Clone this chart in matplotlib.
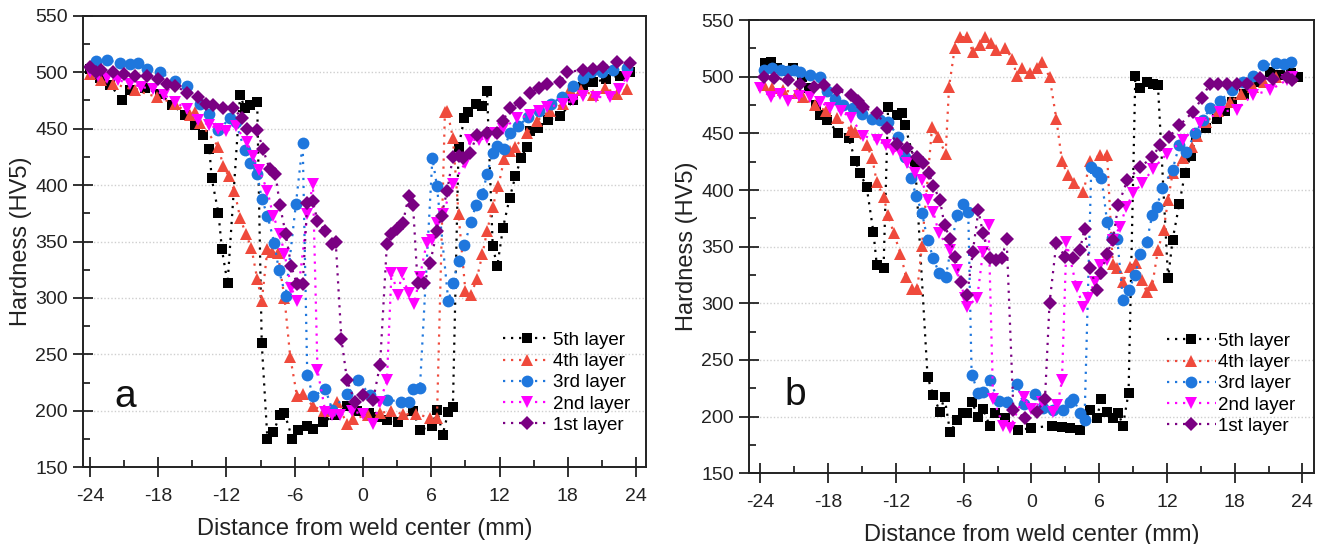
import matplotlib
matplotlib.use("Agg")
import matplotlib.pyplot as plt
from matplotlib.ticker import MultipleLocator

plt.rcParams['font.family'] = ['Liberation Sans', 'DejaVu Sans']
plt.rcParams['axes.unicode_minus'] = False

# ---- panel a : (distance mm, hardness HV5) ----
a5 = [(-24.0, 503), (-23.1, 495), (-22.2, 489), (-21.2, 475), (-20.5, 484), (-19.2, 486),
      (-17.8, 481), (-16.8, 471), (-15.6, 462), (-14.8, 453), (-14.1, 444), (-13.5, 432),
      (-13.3, 406), (-12.7, 375), (-12.4, 343), (-11.9, 313), (-10.8, 480), (-10.4, 468),
      (-9.9, 471), (-9.3, 474), (-8.9, 260), (-8.4, 175), (-7.9, 181), (-7.3, 196),
      (-6.9, 198), (-6.2, 175), (-5.7, 183), (-4.9, 187), (-4.4, 184), (-3.5, 190),
      (-2.5, 196), (-1.4, 204), (-0.5, 200), (0.5, 198), (1.2, 195), (2.1, 192), (3.1, 190),
      (4.4, 200), (5.0, 183), (6.1, 187), (6.5, 201), (7.0, 179), (7.5, 199), (7.9, 203),
      (8.4, 434), (8.9, 459), (9.2, 465), (9.9, 472), (10.5, 470), (10.9, 483), (11.4, 346),
      (11.8, 328), (12.3, 362), (12.9, 389), (13.4, 408), (13.9, 424), (14.4, 434),
      (14.7, 448), (15.4, 451), (16.3, 458), (17.3, 461), (18.5, 475), (19.3, 487),
      (20.2, 491), (21.4, 494), (22.6, 497), (23.5, 500)]

a4 = [(-24.0, 498), (-23.0, 493), (-22.0, 490), (-20.0, 484), (-18.1, 478), (-16.5, 472),
      (-15.2, 462), (-14.8, 465), (-14.3, 455), (-12.7, 434), (-12.3, 417), (-11.8, 408),
      (-11.3, 395), (-10.8, 371), (-10.3, 357), (-9.8, 344), (-9.3, 317), (-8.9, 297),
      (-8.4, 343), (-8.0, 341), (-7.5, 340), (-6.9, 300), (-6.4, 248), (-5.8, 213),
      (-5.3, 215), (-4.4, 204), (-3.4, 200), (-2.3, 208), (-1.4, 188), (-0.9, 193),
      (0.4, 196), (1.5, 198), (2.5, 200), (3.5, 197), (4.7, 197), (5.9, 194), (6.5, 194),
      (7.2, 465), (7.4, 466), (7.9, 442), (8.4, 374), (9.0, 306), (9.5, 303), (10.0, 317),
      (10.5, 339), (10.9, 359), (11.4, 381), (11.9, 399), (12.4, 423), (12.9, 430),
      (13.4, 434), (14.4, 446), (15.3, 457), (16.4, 466), (17.6, 472), (18.2, 485),
      (19.2, 484), (20.2, 480), (21.3, 486), (22.3, 481), (23.2, 485)]

a3 = [(-23.5, 510), (-22.5, 511), (-21.4, 508), (-20.5, 507), (-19.8, 508), (-19.0, 503),
      (-17.8, 500), (-16.5, 492), (-15.5, 488), (-14.3, 472), (-13.5, 463), (-12.7, 449),
      (-11.7, 459), (-11.2, 456), (-10.4, 431), (-9.9, 420), (-9.3, 410), (-8.9, 388),
      (-8.4, 373), (-7.8, 349), (-7.4, 325), (-6.8, 302), (-5.9, 383), (-5.3, 437),
      (-4.9, 232), (-4.4, 213), (-3.3, 219), (-2.7, 201), (-1.4, 215), (-0.4, 227),
      (0.6, 214), (2.1, 210), (3.3, 208), (4.0, 208), (4.4, 219), (5.0, 220), (6.1, 424),
      (6.5, 399), (7.5, 297), (7.9, 313), (8.4, 333), (8.9, 347), (9.5, 367), (9.9, 382),
      (10.5, 392), (10.9, 410), (11.4, 428), (11.8, 435), (12.4, 432), (12.9, 446),
      (13.6, 452), (14.5, 460), (15.5, 466), (16.5, 472), (17.5, 478), (18.5, 488),
      (19.3, 495), (20.0, 500), (21.0, 500), (22.0, 502), (23.2, 504)]

a2 = [(-24.0, 500), (-23.3, 497), (-22.5, 495), (-21.5, 493), (-20.5, 490), (-19.5, 487),
      (-18.5, 485), (-17.5, 480), (-16.5, 474), (-15.5, 467), (-14.5, 458), (-13.5, 453),
      (-12.7, 450), (-12.0, 448), (-11.2, 452), (-10.2, 438), (-9.7, 426), (-9.1, 413),
      (-8.4, 395), (-7.9, 373), (-7.3, 357), (-6.9, 339), (-6.3, 309), (-5.8, 297),
      (-4.9, 374), (-4.4, 401), (-4.0, 236), (-3.3, 199), (-2.7, 196), (-2.0, 196),
      (-1.0, 200), (0.0, 197), (0.9, 188), (1.5, 208), (2.1, 227), (2.5, 322), (3.1, 303),
      (3.4, 322), (4.0, 304), (4.5, 295), (5.0, 319), (5.6, 349), (6.1, 351), (6.5, 366),
      (7.0, 374), (7.9, 401), (9.0, 420), (9.4, 440), (10.2, 440), (10.9, 442), (11.6, 446),
      (12.3, 450), (13.5, 459), (14.7, 462), (15.5, 466), (16.2, 469), (17.6, 472),
      (18.5, 475), (19.3, 479), (20.5, 478), (21.7, 478), (22.5, 485), (23.2, 496)]

a1 = [(-24.0, 505), (-23.5, 500), (-23.0, 502), (-22.0, 500), (-21.0, 498), (-20.0, 497),
      (-19.0, 497), (-18.0, 494), (-17.2, 490), (-16.5, 488), (-15.5, 482), (-14.5, 478),
      (-13.8, 472), (-13.2, 471), (-12.3, 468), (-11.4, 468), (-10.6, 459), (-10.2, 450),
      (-9.3, 449), (-8.8, 432), (-8.2, 414), (-7.7, 410), (-7.3, 382), (-6.8, 357),
      (-6.3, 328), (-5.8, 312), (-5.3, 312), (-4.9, 384), (-4.4, 386), (-4.0, 368),
      (-3.3, 359), (-2.7, 348), (-2.4, 350), (-1.9, 264), (-1.4, 227), (-0.7, 208),
      (0.0, 214), (0.9, 210), (1.5, 241), (2.1, 348), (2.5, 357), (3.0, 361), (3.5, 366),
      (4.0, 390), (4.4, 382), (4.8, 313), (5.4, 313), (5.9, 331), (6.5, 359), (6.9, 373),
      (7.4, 395), (7.9, 425), (8.4, 426), (8.8, 424), (9.4, 428), (10.0, 444), (10.9, 446),
      (11.8, 446), (12.3, 457), (12.9, 468), (13.8, 473), (14.7, 482), (15.5, 486),
      (16.2, 490), (17.3, 491), (17.9, 500), (19.3, 502), (20.2, 503), (21.1, 505),
      (22.3, 509), (23.5, 508)]

# ---- panel b ----
b5 = [(-23.6, 512), (-23.1, 513), (-22.5, 508), (-21.7, 505), (-21.1, 508), (-20.3, 500),
      (-19.7, 490), (-19.1, 475), (-18.7, 466), (-18.1, 462), (-17.1, 450), (-16.2, 446),
      (-15.6, 426), (-15.2, 415), (-14.6, 403), (-14.0, 363), (-13.7, 334), (-13.1, 331),
      (-12.7, 473), (-11.9, 466), (-11.5, 468), (-11.2, 457), (-10.3, 423), (-9.2, 235),
      (-8.7, 219), (-8.1, 204), (-7.7, 217), (-7.2, 186), (-6.6, 197), (-6.1, 203),
      (-5.7, 203), (-5.3, 213), (-4.7, 200), (-4.3, 207), (-3.7, 192), (-3.2, 203),
      (-2.3, 199), (-1.2, 188), (0.0, 190), (1.8, 192), (2.7, 191), (3.4, 190), (4.3, 188),
      (5.2, 206), (5.8, 199), (6.2, 216), (6.7, 204), (7.2, 199), (7.7, 203), (8.1, 192),
      (8.6, 221), (9.2, 501), (9.6, 490), (10.2, 495), (10.8, 494), (11.2, 493), (12.1, 322),
      (12.5, 356), (13.1, 388), (13.6, 415), (14.1, 430), (14.6, 448), (15.5, 455),
      (16.4, 463), (17.1, 470), (17.8, 478), (18.8, 485), (19.9, 495), (21.1, 504),
      (22.0, 502), (23.0, 503), (23.6, 500)]

b4 = [(-23.7, 493), (-23.0, 490), (-22.0, 488), (-20.8, 486), (-20.2, 482), (-19.2, 475),
      (-18.2, 470), (-17.2, 464), (-16.0, 453), (-15.6, 451), (-14.6, 440), (-14.1, 428),
      (-13.7, 407), (-13.1, 394), (-12.7, 378), (-12.2, 362), (-11.6, 344), (-11.1, 323),
      (-10.6, 313), (-10.1, 313), (-9.7, 351), (-8.8, 456), (-8.3, 447), (-7.6, 432),
      (-7.3, 491), (-6.8, 525), (-6.3, 535), (-5.7, 535), (-5.2, 522), (-4.6, 528),
      (-4.1, 535), (-3.6, 530), (-3.1, 524), (-2.3, 525), (-1.7, 516), (-1.3, 501),
      (-0.8, 508), (-0.1, 503), (0.5, 508), (0.9, 513), (1.6, 500), (2.2, 463), (2.7, 426),
      (3.2, 413), (3.8, 406), (4.6, 398), (5.2, 426), (6.1, 431), (6.7, 431), (7.2, 335),
      (7.6, 331), (8.1, 319), (8.7, 332), (9.3, 336), (9.8, 321), (10.2, 310), (10.7, 316),
      (11.2, 347), (11.7, 365), (12.1, 391), (12.5, 415), (13.4, 428), (14.2, 438),
      (14.7, 448), (15.5, 460), (16.5, 470), (17.6, 478), (18.6, 485), (19.6, 491),
      (20.6, 495), (21.7, 500), (23.0, 500)]

b3 = [(-23.7, 506), (-23.0, 508), (-22.2, 506), (-21.6, 505), (-21.0, 506), (-20.5, 504),
      (-19.6, 502), (-18.7, 500), (-18.1, 487), (-17.4, 480), (-16.7, 475), (-15.8, 472),
      (-15.0, 467), (-14.1, 463), (-13.4, 462), (-12.7, 460), (-11.8, 447), (-11.2, 429),
      (-10.7, 411), (-10.2, 395), (-9.7, 380), (-9.2, 356), (-8.7, 340), (-8.2, 327),
      (-7.6, 323), (-6.6, 378), (-6.1, 388), (-5.6, 381), (-5.3, 237), (-4.7, 221),
      (-4.3, 222), (-3.7, 232), (-2.9, 214), (-2.2, 213), (-1.3, 229), (-0.7, 211),
      (0.3, 220), (1.0, 208), (1.9, 206), (2.8, 206), (3.4, 213), (3.7, 216), (4.3, 203),
      (4.7, 197), (5.3, 420), (5.8, 416), (6.2, 411), (6.7, 372), (7.1, 358), (7.6, 357),
      (8.1, 303), (8.6, 312), (9.2, 325), (9.6, 344), (10.2, 354), (10.7, 378), (11.1, 385),
      (11.6, 402), (12.5, 418), (13.1, 440), (13.7, 434), (14.5, 450), (15.2, 462),
      (15.8, 472), (16.7, 479), (17.8, 488), (18.7, 495), (19.6, 501), (20.5, 510),
      (21.7, 512), (22.4, 511), (23.0, 513)]

b2 = [(-24.0, 490), (-23.1, 482), (-22.3, 485), (-21.6, 479), (-20.6, 483), (-19.6, 482),
      (-18.7, 478), (-17.8, 472), (-16.9, 470), (-16.0, 464), (-14.9, 448), (-13.7, 444),
      (-12.9, 440), (-12.3, 435), (-11.6, 434), (-11.0, 424), (-10.3, 415), (-9.7, 409),
      (-9.2, 391), (-8.7, 381), (-8.2, 362), (-7.2, 347), (-6.6, 329), (-5.9, 305),
      (-5.7, 297), (-4.8, 305), (-4.3, 345), (-3.8, 369), (-3.4, 216), (-2.5, 192),
      (-1.9, 190), (-0.7, 217), (0.0, 207), (0.9, 213), (1.9, 204), (2.3, 210), (2.7, 232),
      (3.1, 354), (4.0, 314), (4.6, 297), (5.0, 305), (5.6, 319), (6.1, 334), (6.7, 338),
      (7.2, 356), (7.8, 367), (8.4, 385), (9.0, 397), (9.8, 406), (10.8, 419), (12.0, 432),
      (13.4, 444), (14.9, 459), (16.7, 469), (18.2, 471), (19.6, 484), (21.1, 488),
      (22.6, 497), (23.1, 500)]

b1 = [(-23.7, 500), (-22.8, 499), (-21.6, 497), (-20.5, 494), (-19.3, 491), (-18.4, 493),
      (-17.2, 488), (-16.0, 484), (-15.4, 479), (-14.9, 473), (-13.7, 468), (-12.8, 455),
      (-11.9, 441), (-11.0, 437), (-10.1, 429), (-9.6, 424), (-9.1, 415), (-8.7, 404),
      (-8.1, 391), (-7.7, 369), (-7.2, 357), (-6.8, 341), (-6.2, 319), (-5.7, 307),
      (-5.2, 345), (-4.7, 382), (-4.3, 362), (-3.7, 340), (-3.1, 338), (-2.6, 340),
      (-2.2, 357), (-1.6, 206), (-0.6, 199), (0.5, 204), (1.2, 216), (1.6, 300), (2.2, 353),
      (3.0, 341), (3.7, 340), (4.3, 347), (4.7, 366), (5.2, 331), (5.8, 312), (6.2, 327),
      (6.7, 344), (7.2, 356), (7.7, 387), (8.5, 409), (9.6, 420), (10.7, 429), (11.4, 440),
      (12.2, 447), (13.1, 457), (14.3, 469), (15.1, 481), (15.8, 494), (16.5, 494),
      (17.3, 494), (18.2, 494), (19.1, 494), (20.2, 499), (21.4, 498), (22.6, 500),
      (23.1, 497)]

labels = ['5th layer', '4th layer', '3rd layer', '2nd layer', '1st layer']
colors = ['#000000', '#ef4a3c', '#1f77dd', '#ff00ff', '#7a0082']
markers = ['s', '^', 'o', 'v', 'D']
msizes = [7.2, 8.5, 8.5, 8.5, 6.8]

fig = plt.figure(figsize=(13.19, 5.44), dpi=100)
ax_a = fig.add_axes([0.063, 0.141, 0.427, 0.830])
ax_b = fig.add_axes([0.568, 0.130, 0.428, 0.833])


def draw(ax, series, xlim, letter, leg_anchor, letter_pos):
    for s, lab, c, m, ms in zip(series, labels, colors, markers, msizes):
        xs = [p[0] for p in s]
        ys = [p[1] for p in s]
        ax.plot(xs, ys, linestyle=(0, (1, 2.6)), linewidth=1.6, color=c,
                marker=m, markersize=ms, markeredgewidth=0, label=lab)
    ax.set_xlim(*xlim)
    ax.set_ylim(150, 550)
    ax.xaxis.set_minor_locator(MultipleLocator(3))
    ax.yaxis.set_major_locator(MultipleLocator(50))
    ax.yaxis.set_minor_locator(MultipleLocator(25))
    ax.set_xticks([-24, -18, -12, -6, 0, 6, 12, 18, 24])
    ax.tick_params(which='major', direction='inout', length=14, width=1.3,
                   labelsize=14, colors='#222222')
    ax.tick_params(axis='x', which='major', pad=8)
    ax.tick_params(axis='y', which='major', pad=4)
    ax.tick_params(which='minor', direction='in', length=5, width=1.1)
    for sp in ax.spines.values():
        sp.set_linewidth(1.4)
        sp.set_color('#222222')
    for v in range(200, 501, 50):
        ax.axhline(v, color='#cfcfcf', linestyle=(0, (1, 1.5)), linewidth=1.0, zorder=0)
    ax.set_xlabel('Distance from weld center (mm)', fontsize=17, color='#222222',
                  labelpad=9)
    ax.set_ylabel('Hardness (HV5)', fontsize=17, color='#222222', labelpad=2)
    ax.text(letter_pos[0], letter_pos[1], letter, transform=ax.transAxes,
            fontsize=28, color='#111111', ha='center', va='center')
    ax.legend(loc='upper left', bbox_to_anchor=leg_anchor, frameon=False,
              fontsize=13.5, handlelength=2.6, handletextpad=0.1, labelspacing=0.22,
              borderpad=0, borderaxespad=0)


draw(ax_a, [a5, a4, a3, a2, a1], (-24.6, 24.9), 'a', (0.745, 0.30), (0.075, 0.155))
draw(ax_b, [b5, b4, b3, b2, b1], (-25.0, 25.0), 'b', (0.74, 0.31), (0.081, 0.172))

fig.savefig('out.png', dpi=100)
